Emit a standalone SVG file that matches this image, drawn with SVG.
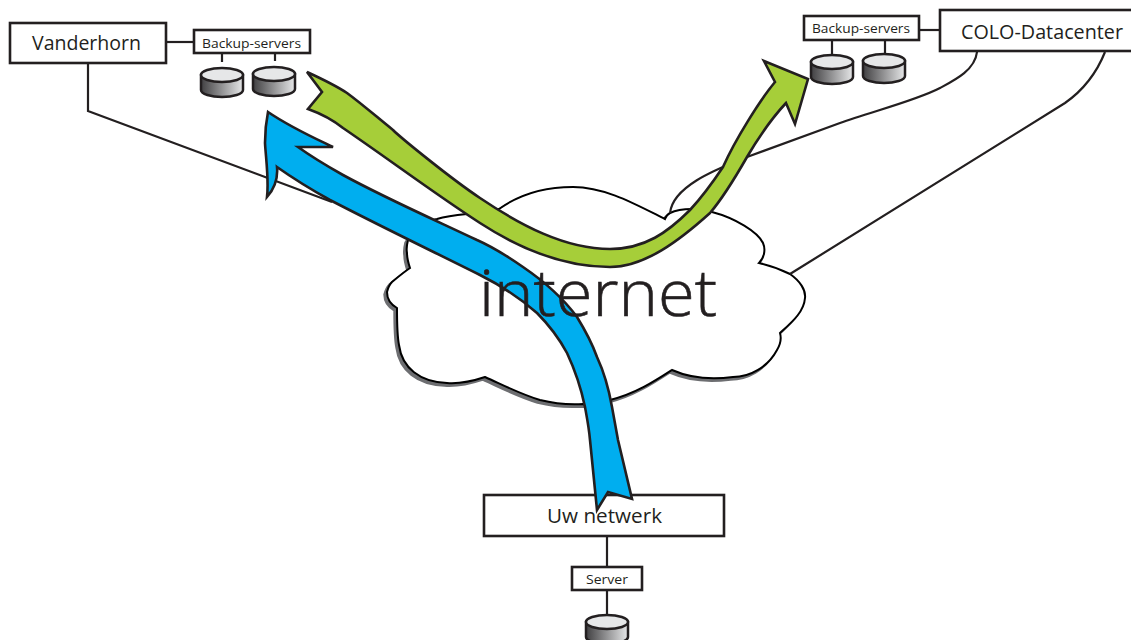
<svg xmlns="http://www.w3.org/2000/svg" xmlns:xlink="http://www.w3.org/1999/xlink" width="1131" height="640" viewBox="0 0 1131 640">
<style>
text{font-family:"Open Sans","Noto Sans","Liberation Sans",sans-serif;fill:#231f20;text-anchor:middle}
.box{fill:#fff;stroke:#231f20;stroke-width:2.6}
.line{fill:none;stroke:#231f20;stroke-width:2.2}
.big{font-size:20.500px}
.small{font-size:13.500px}
.cyl{stroke:#231f20;stroke-width:2.5}
.arrow{stroke:#231f20;stroke-width:2.6;stroke-linejoin:miter}
</style>
<defs>
<linearGradient id="g"><stop offset="0" stop-color="#414042"/><stop offset="1" stop-color="#e6e7e8"/></linearGradient>
<g id="cylinder">
<path class="cyl" fill="url(#g)" d="M-21,-7V8C-21,12-11,15 0,15S21,12 21,8V-7Z"/>
<ellipse class="cyl" fill="#e6e7e8" cx="0" cy="-7" rx="21" ry="7"/>
</g>
<path id="cloudshape" d="M499,209C520,194 545,187 573,187C605,187 635,204 665,219C666,216 668,214 670,213C678,209 685,209 692,209C700,209 706,211 712,212C735,218 758,232 763,243C766,250 764,258 759,263C772,266 782,270 790,274C800,281 806,290 805,298C804,312 792,322 780,333C782,340 780,345 777,350C768,367 750,377 733,377C710,380 690,378 672,370C655,381 635,394 610,400C600,404 590,405 583,404C565,405 552,403 540,400C520,394 503,385 485,377C470,382 460,384 447,383C420,382 402,368 399,345C397,335 397,325 397,308C390,304 387,298 387,292C388,288 390,284 392,282C398,277 404,272 410,268C408,262 407,258 407,253C406,248 407,244 408,240C415,228 425,221 437,219C447,216 457,215 467,214C478,213 490,212 499,209Z"/>
</defs>

<g id="cloud">
<use xlink:href="#cloudshape" href="#cloudshape" transform="translate(-2.500,2.500)" fill="#6d6e71" stroke="#6d6e71" stroke-width="2.4"/>
<use xlink:href="#cloudshape" href="#cloudshape" fill="#fff" stroke="#000" stroke-width="2"/>
</g>

<g id="connectors">
<path class="line" d="M88,63V111L332,202"/>
<path class="line" d="M166,42H194"/>
<path class="line" d="M222,53V62M275,53V61"/>
<path class="line" d="M919,30H940"/>
<path class="line" d="M832,40V55M885,40V55"/>
<path class="line" d="M977,52C975,70 955,80 940,88C915,101 870,112 840,123L747,157C720,168 673,185 670,213"/>
<path class="line" d="M1105,52C1097,72 1085,89 1065,103L790,274"/>
<path class="line" d="M607,536V567M607,590V616"/>
</g>

<g id="vanderhorn"><rect class="box" x="10" y="23" width="156" height="40"/><text class="big" x="86.500" y="50" textLength="109" lengthAdjust="spacingAndGlyphs">Vanderhorn</text></g>
<g id="backup-left"><rect class="box" x="194" y="30" width="116" height="23"/><text class="small" x="251.500" y="47.500" textLength="99" lengthAdjust="spacingAndGlyphs">Backup-servers</text></g>
<g id="disk-left-1"><use xlink:href="#cylinder" href="#cylinder" x="222" y="82"/></g>
<g id="disk-left-2"><use xlink:href="#cylinder" href="#cylinder" x="274" y="81"/></g>
<g id="backup-right"><rect class="box" x="804" y="16" width="115" height="24"/><text class="small" x="861" y="33" textLength="98" lengthAdjust="spacingAndGlyphs">Backup-servers</text></g>
<g id="colo"><rect class="box" x="940" y="10" width="195" height="41"/><text class="big" x="1042" y="38.500" textLength="162" lengthAdjust="spacingAndGlyphs">COLO-Datacenter</text></g>
<g id="disk-right-1"><use xlink:href="#cylinder" href="#cylinder" x="832" y="69"/></g>
<g id="disk-right-2"><use xlink:href="#cylinder" href="#cylinder" x="884" y="68"/></g>
<g id="uw-netwerk"><rect class="box" x="484" y="495" width="240" height="41"/></g>
<g id="server"><rect class="box" x="572" y="567" width="70" height="23"/><text class="small" x="607" y="584" textLength="42" lengthAdjust="spacingAndGlyphs">Server</text></g>
<g id="disk-server"><use xlink:href="#cylinder" href="#cylinder" x="607" y="629"/></g>

<g id="arrows">
<path id="arrow-green" class="arrow" fill="#a6ce39" d="M307,72L322,92L308,109C322,114 333,120 343,128C390,160 435,194 480,223C520,249 565,267 610,267C645,267 680,240 710,213C722,199 735,178 747,157C757,140 772,118 786,103L795,124L808,79L764,61L775,82C760,100 735,140 723,167C713,182 702,197 690,210C668,232 645,249 610,249C565,249 520,225 480,198C450,178 400,137 393,130C378,118 362,104 347,93C335,85 320,78 307,72Z"/>
<path id="arrow-blue" class="arrow" fill="#00aeef" d="M268,112C290,127 310,136 333,147L298,147C312,157 327,166 343,175C385,198 435,220 477,240C495,248 510,258 523,267C545,282 563,298 577,317C585,330 592,343 597,357C604,372 609,390 612,407L618,440L632,499L608,492L597,510L590,440C589,428 587,418 585,407C581,388 575,370 567,353C560,340 550,326 537,313C520,298 500,285 480,275C430,250 380,226 330,200C312,190 294,179 277,167C278,178 275,188 267,197C269,180 266,160 265,143C265,132 266,122 268,112Z"/>
</g>

<g id="labels">
<text x="598" y="316" font-size="64" font-weight="300" stroke="#231f20" stroke-width="0.600" textLength="238" lengthAdjust="spacingAndGlyphs">internet</text>
<text class="big" x="604.500" y="522.700" textLength="115" lengthAdjust="spacingAndGlyphs">Uw netwerk</text>
</g>
</svg>
